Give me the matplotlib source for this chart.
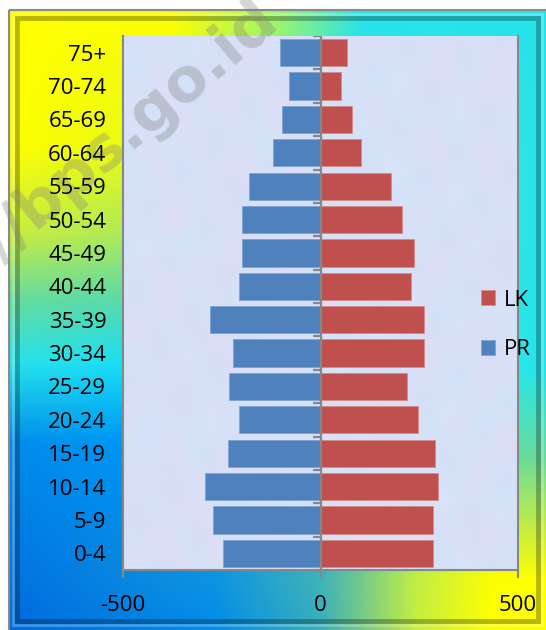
import numpy as np
import matplotlib
matplotlib.use("Agg")
import matplotlib.pyplot as plt
from matplotlib.colors import LinearSegmentedColormap
from matplotlib.patches import Rectangle

plt.rcParams['font.family'] = ['Open Sans', 'DejaVu Sans']

age_groups = ["0-4", "5-9", "10-14", "15-19", "20-24", "25-29", "30-34", "35-39",
              "40-44", "45-49", "50-54", "55-59", "60-64", "65-69", "70-74", "75+"]
pr_values = [246, 271, 292, 233, 207, 232, 221, 281, 207, 199, 199, 180, 119, 97, 80, 103]
lk_values = [284, 284, 298, 290, 248, 220, 263, 261, 228, 237, 207, 179, 102, 80, 53, 67]
x_ticks = [-500, 0, 500]
x_tick_labels = ["-500", "0", "500"]

W, H = 546, 630
fig = plt.figure(figsize=(W / 100, H / 100), dpi=100)
fig.patch.set_facecolor("white")

# ---- background gradient frame ----
bg = fig.add_axes([0, 0, 1, 1], zorder=0)
bg.set_xlim(0, W)
bg.set_ylim(H, 0)
bg.axis("off")

YEL = (1.0, 1.0, 0.0)
CYA = (0.15, 0.89, 0.92)
BLU = (0.0, 0.42, 0.87)
LBL = (0.0, 0.55, 0.92)
LGR = (0.62, 0.96, 0.42)
TEAL = (0.22, 0.68, 0.74)
YGR = (0.78, 0.93, 0.25)
GCY = (0.40, 0.86, 0.62)


def edge(stops):
    return LinearSegmentedColormap.from_list("e", stops)


top_c = edge([(0, YEL), (0.3, YEL), (0.5, LGR), (0.66, CYA), (1, CYA)])
bot_c = edge([(0, BLU), (0.38, LBL), (0.58, TEAL), (0.76, YGR), (0.9, YEL), (1, YEL)])
left_c = edge([(0, YEL), (0.22, YEL), (0.36, YGR), (0.47, GCY), (0.57, CYA), (0.7, LBL), (1, BLU)])
right_c = edge([(0, CYA), (0.58, CYA), (0.72, GCY), (0.84, YGR), (0.92, YEL), (1, YEL)])

fx0, fy0 = 9, 10
gx = np.linspace(0, 1, 300)
gy = np.linspace(0, 1, 300)
X, Y = np.meshgrid(gx, gy)
Xe = X[..., None]
Ye = Y[..., None]
Ct = top_c(X)[..., :3]
Cb = bot_c(X)[..., :3]
Cl = left_c(Y)[..., :3]
Cr = right_c(Y)[..., :3]
k00 = np.array(YEL); k10 = np.array(CYA); k01 = np.array(BLU); k11 = np.array(YEL)
img = ((1 - Ye) * Ct + Ye * Cb + (1 - Xe) * Cl + Xe * Cr
       - ((1 - Xe) * (1 - Ye) * k00 + Xe * (1 - Ye) * k10 + (1 - Xe) * Ye * k01 + Xe * Ye * k11))
img = np.clip(img, 0, 1)
bg.imshow(img, extent=(fx0, W, H, fy0), aspect="auto", interpolation="bilinear", zorder=0)
bg.add_patch(Rectangle((fx0, fy0), W - fx0 + 5, H - fy0 + 5, fill=False,
                       edgecolor="#8a8a8a", lw=1.5, zorder=2))
bg.add_patch(Rectangle((fx0 + 8, fy0 + 8), W - fx0 - 16, H - fy0 - 17, fill=False,
                       edgecolor="black", alpha=0.28, lw=3.5, zorder=2))
bg.add_patch(Rectangle((fx0 + 4, fy0 + 4), W - fx0 - 8, H - fy0 - 9, fill=False,
                       edgecolor="white", alpha=0.25, lw=2, zorder=2))

# ---- main axes ----
left, right, top, bottom = 123, 518, 36, 570
ax = fig.add_axes([left / W, 1 - bottom / H, (right - left) / W, (bottom - top) / H], zorder=1)
ax.set_xlim(-500, 500)
ax.set_ylim(-0.5, len(age_groups) - 0.5)

# pale textured plot area (smooth deterministic pattern)
px = np.linspace(0, 1, 200)
py = np.linspace(0, 1, 260)
PX, PY = np.meshgrid(px, py)
n1 = np.sin(PX * 23 + np.sin(PY * 17) * 2) * np.cos(PY * 19 + np.cos(PX * 13) * 2)
n2 = np.sin(PX * 41 + PY * 7) * np.sin(PY * 37 - PX * 11)
base = np.array([0.84, 0.89, 0.97])
pink = np.array([0.90, 0.85, 0.96])
blue = np.array([0.78, 0.88, 0.97])
w1 = (n1 * 0.5 + 0.5)[..., None]
w2 = (n2 * 0.5 + 0.5)[..., None]
tex = base * (1 - 0.5 * w1) + pink * 0.5 * w1
tex = tex * (1 - 0.3 * w2) + blue * 0.3 * w2
ax.imshow(tex, extent=(-500, 500, -0.5, len(age_groups) - 0.5), aspect="auto",
          interpolation="bilinear", zorder=0)

ypos = np.arange(len(age_groups))
pr_bars = ax.barh(ypos, [-v for v in pr_values], height=0.82, color="#4F81BD",
                  edgecolor="#7ea3d1", lw=0.6, label="PR", zorder=3)
lk_bars = ax.barh(ypos, lk_values, height=0.82, color="#C0504D",
                  edgecolor="#d98a88", lw=0.6, label="LK", zorder=3)

gray = "#878787"
ax.axvline(0, color=gray, lw=1.6, zorder=4)
bounds = np.arange(len(age_groups) + 1) - 0.5
ax.hlines(bounds, -20, 0, color=gray, lw=1.6, zorder=4)

ax.spines["top"].set_visible(False)
for s in ["left", "right", "bottom"]:
    ax.spines[s].set_color(gray)
    ax.spines[s].set_linewidth(1.5)

ax.set_yticks(ypos)
ax.set_yticklabels(age_groups, fontsize=16)
ax.tick_params(axis="y", length=0, pad=12)
ax.set_xticks(x_ticks)
ax.set_xticklabels(x_tick_labels, fontsize=16)
ax.tick_params(axis="x", length=6, width=1.5, color=gray, pad=12, direction="out")

# legend
fig.legend([lk_bars, pr_bars], ["LK", "PR"], loc="center left",
           bbox_to_anchor=(461 / W, 1 - 325 / H), frameon=False, fontsize=16,
           handlelength=0.65, handleheight=0.65, handletextpad=0.4, labelspacing=1.3)

# watermark (behind tick labels and bars, above backgrounds)
ax.text(270 / W, 1 - 10 / H, "http://bps.go.id", transform=fig.transFigure,
        rotation=40, rotation_mode="anchor", ha="right", va="center",
        fontsize=44, fontweight="bold", color="#808080", alpha=0.33,
        zorder=1, clip_on=False, family="DejaVu Sans")

fig.savefig("out.png", dpi=100)
